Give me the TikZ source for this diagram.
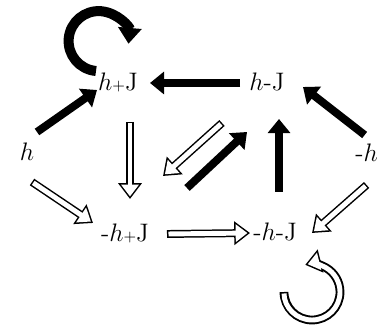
\documentclass[tikz,border=0pt]{standalone}
\usepackage{tikz}
\usetikzlibrary{arrows.meta,calc}
\newcommand{\pls}{{\small+}}

\begin{document}
\begin{tikzpicture}[font=\Large,
  lbl/.style={inner sep=1pt},
  solidarr/.style={line width=4.5pt, -{Triangle[length=8pt,width=12.5pt]}},
  hollowarr/.style={line width=4.5pt, -{Triangle[length=9pt,width=13pt]},
    postaction={draw=white, line width=2.8pt, shorten <=0.85pt, shorten >=1.45pt,
      -{Triangle[length=6.7pt,width=9.7pt]}}}]
\useasboundingbox (0,0) rectangle (7.6,6.5);
\node[lbl] (h) at (0.54,3.46) {$h$};
\node[lbl] (hpJ) at (2.36,4.86) {$h$\pls J};
\node[lbl] (hmJ) at (5.34,4.86) {$h$-J};
\node[lbl, anchor=east] (mh) at (7.6,3.44) {-$h$};
\node[lbl] (mhpJ) at (2.50,1.84) {-$h$\pls J};
\node[lbl] (mhmJ) at (5.50,1.86) {-$h$-J};
% black arrows
\draw[solidarr] ($(h)+(0.20,0.40)$) -- ($(hpJ)+(-0.42,-0.16)$);
\draw[solidarr] ($(hmJ)+(-0.54,-0.02)$) -- ($(hpJ)+(0.64,-0.02)$);
\draw[solidarr] ($(mh)+(-0.04,0.36)$) -- ($(hmJ)+(0.72,-0.10)$);
\draw[solidarr] ($(mhpJ)+(1.24,0.90)$) -- ($(hmJ)+(-0.40,-1.00)$);
\draw[solidarr] ($(mhmJ)+(0.08,0.80)$) -- ($(hmJ)+(0.24,-0.74)$);
% open arrows
\draw[hollowarr] ($(hpJ)+(0.24,-0.80)$) -- ($(mhpJ)+(0.10,0.68)$);
\draw[hollowarr] ($(hmJ)+(-0.90,-0.82)$) -- ($(mhpJ)+(0.76,1.14)$);
\draw[hollowarr] ($(h)+(0.10,-0.60)$) -- ($(mhpJ)+(-0.64,0.20)$);
\draw[hollowarr] ($(mhpJ)+(0.84,-0.02)$) -- ($(mhmJ)+(-0.50,-0.02)$);
\draw[hollowarr] ($(mh)+(0.00,-0.64)$) -- ($(mhmJ)+(0.74,-0.02)$);
% loops
\draw[line width=5.7pt, -{Triangle[length=9pt,width=13pt]}]
  ($(hpJ)+(-0.44,0.22)$) arc[start angle=-95, end angle=-365, radius=0.6];
\draw[hollowarr, line width=5pt]
  ($(mhmJ)+(0.18,-1.20)$) arc[start angle=180, end angle=464, radius=0.56];
\end{tikzpicture}
\end{document}
